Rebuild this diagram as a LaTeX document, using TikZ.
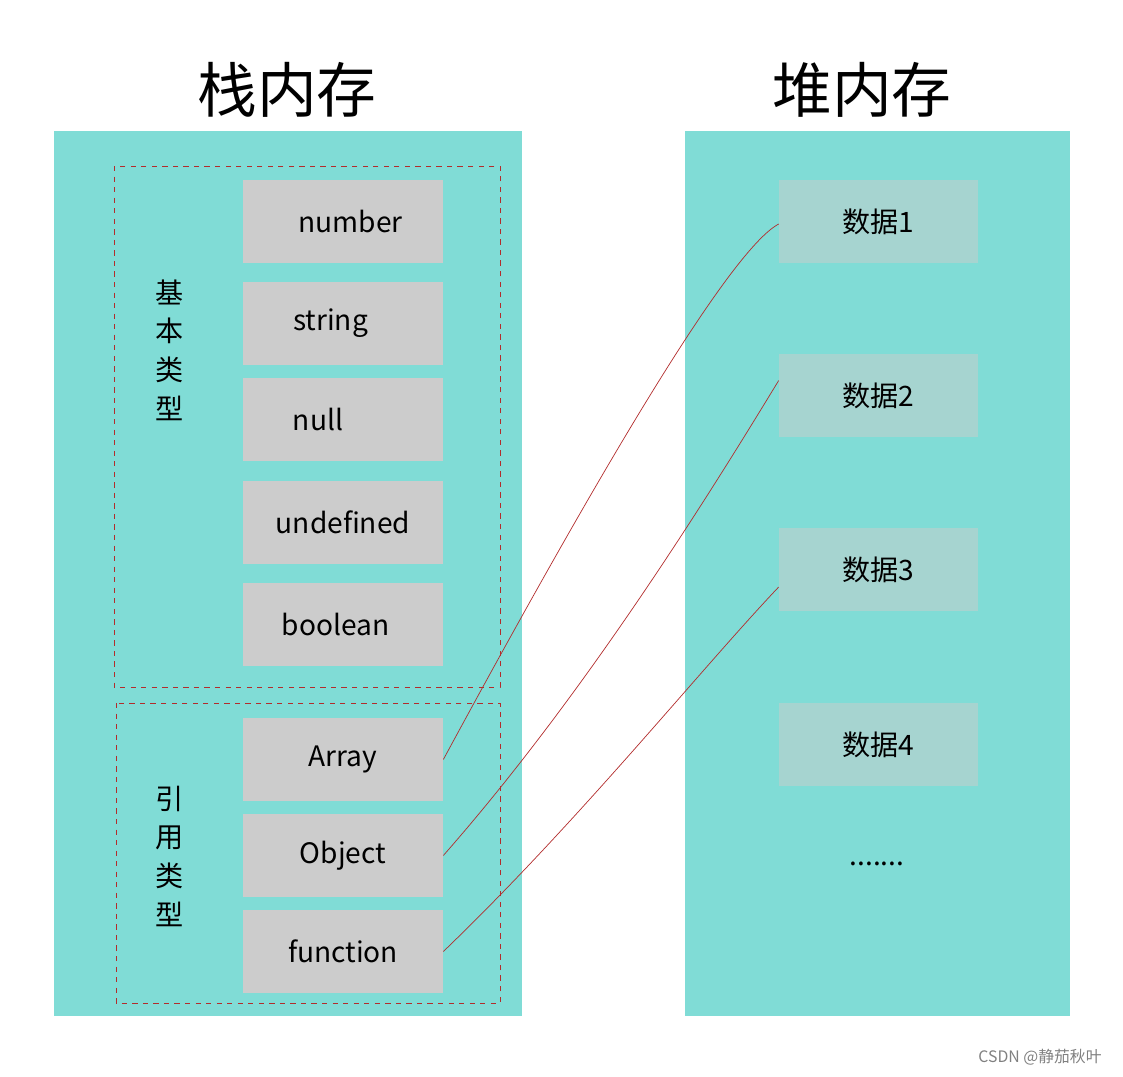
\documentclass[tikz,border=0pt]{standalone}
\usepackage{fontspec}
\setmainfont{Noto Sans CJK SC}
\definecolor{panel}{HTML}{80DCD6}
\definecolor{slot}{HTML}{CCCCCC}
\definecolor{heapbox}{HTML}{A6D4D0}
\definecolor{link}{HTML}{B22C2C}
\tikzset{
  slotbox/.style={fill=slot, minimum width=4cm, minimum height=1.66cm, font=\fontsize{16}{18}\selectfont},
  databox/.style={fill=heapbox, minimum width=3.98cm, minimum height=1.66cm, font=\fontsize{16}{18}\selectfont},
  title/.style={font=\fontsize{34}{38}\selectfont},
  group/.style={draw=link, dashed, thin},
  vlabel/.style={font=\fontsize{16}{18}\selectfont, align=center},
  ref/.style={draw=link, thin}
}
\begin{document}
\begin{tikzpicture}[x=0.02cm, y=-0.02cm]
\useasboundingbox (0,0) rectangle (1123,1076);
% panels
\fill[panel] (54,131) rectangle (522,1016);
\fill[panel] (685,131) rectangle (1070,1016);
\node[title] (stack) at (287,90) {栈内存};
\node[title] (heap) at (862,90) {堆内存};
\draw[group] (114,166) rectangle (500,687);
\draw[group] (116,703) rectangle (500,1003);
\node[vlabel] (prim) at (170,350) {基\\[4pt]本\\[4pt]类\\[4pt]型};
\node[vlabel] (refs) at (170,856) {引\\[4pt]用\\[4pt]类\\[4pt]型};
% stack slots
\node[slotbox] (number) at (343,221.5) {\hspace*{0.3cm}number};
\node[slotbox] (string) at (343,323.5) {string\hspace*{0.5cm}};
\node[slotbox] (null) at (343,419.5) {null\hspace*{1cm}};
\node[slotbox] (undefined) at (343,522.5) {undefined};
\node[slotbox] (boolean) at (343,624.5) {boolean\hspace*{0.3cm}};
\node[slotbox] (array) at (343,759.5) {Array};
\node[slotbox] (object) at (343,855.5) {Object};
\node[slotbox] (function) at (343,951.5) {function};
% heap data
\node[databox] (d1) at (878.5,221.5) {数据1};
\node[databox] (d2) at (878.5,395.5) {数据2};
\node[databox] (d3) at (878.5,569.5) {数据3};
\node[databox] (d4) at (878.5,744.5) {数据4};
\node[font=\fontsize{16}{18}\selectfont] (more) at (877,864) {.......};
% references
\draw[ref] (array.east) .. controls (600,470) and (730,250) .. ([yshift=-0.05cm]d1.west);
\draw[ref] (object.east) .. controls (580,700) and (700,510) .. ([yshift=0.3cm]d2.west);
\draw[ref] (function.east) .. controls (580,820) and (700,670) .. ([yshift=-0.35cm]d3.west);
\node[text=gray, font=\fontsize{9}{10}\selectfont] (mark) at (1040,1057) {CSDN @静茄秋叶};
\end{tikzpicture}
\end{document}
